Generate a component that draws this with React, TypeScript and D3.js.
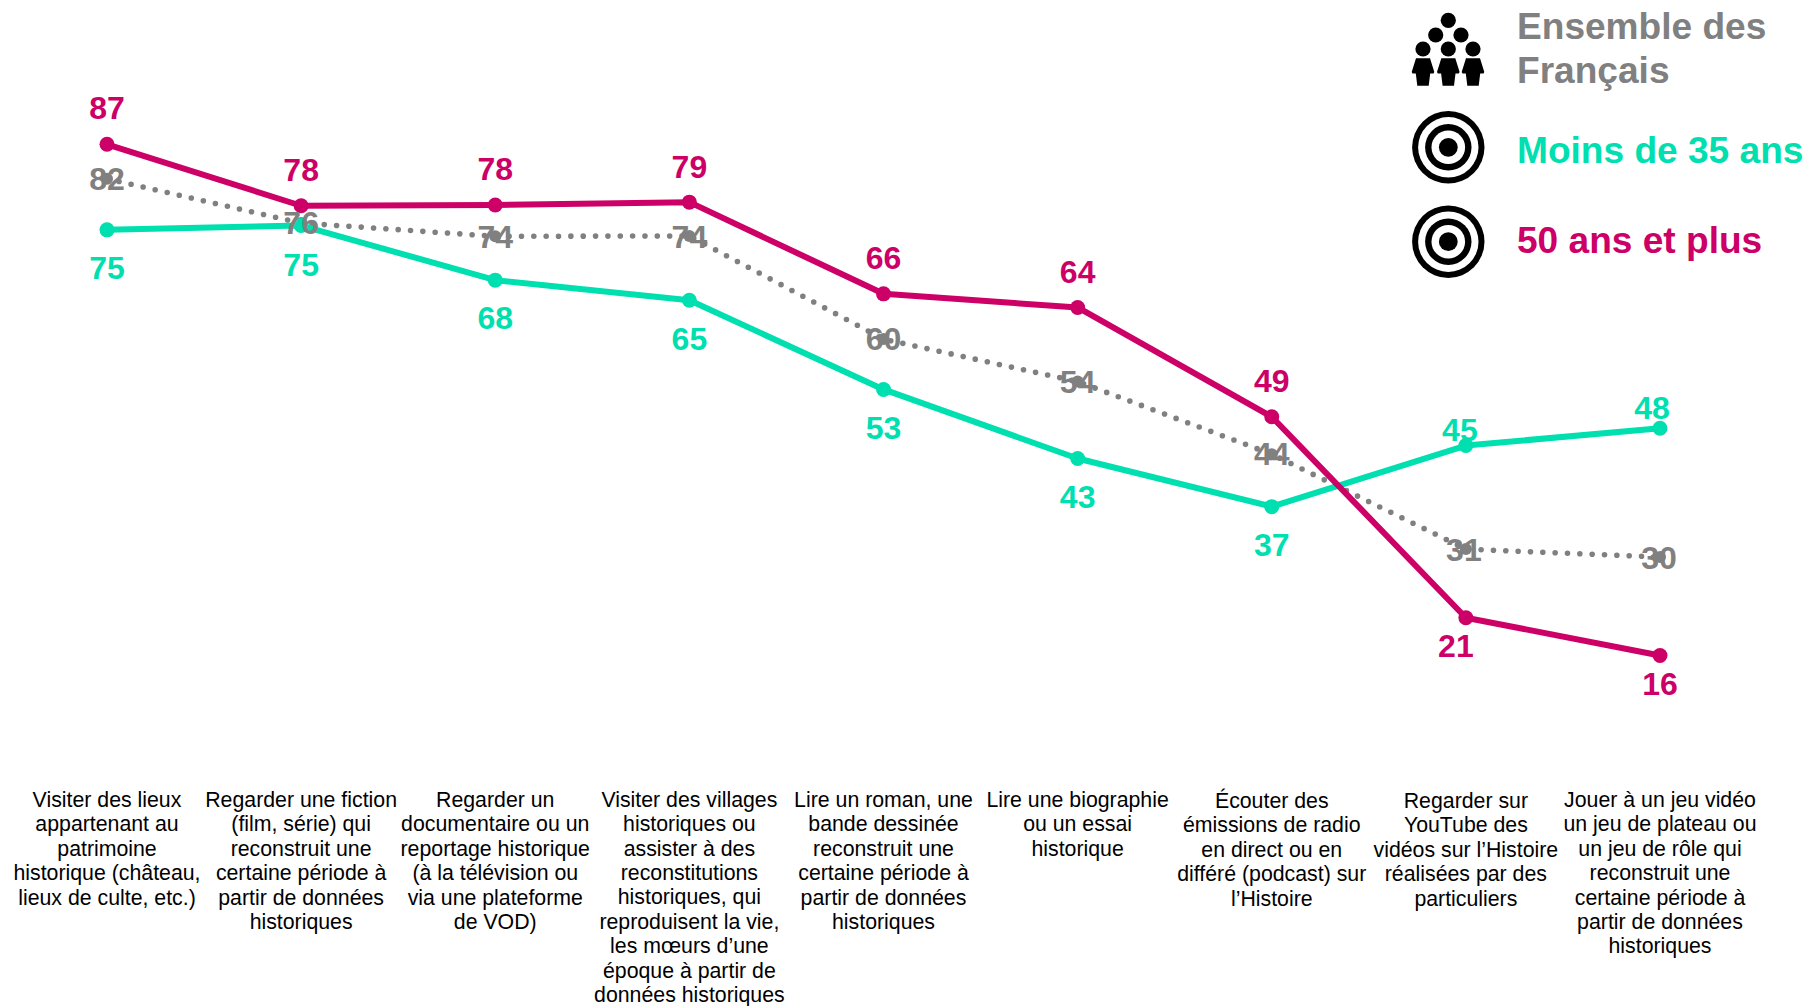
import React from "react";
import * as d3 from "d3";

const categories: string[][] = [
  ["Visiter des lieux", "appartenant au", "patrimoine", "historique (château,", "lieux de culte, etc.)"],
  ["Regarder une fiction", "(film, série) qui", "reconstruit une", "certaine période à", "partir de données", "historiques"],
  ["Regarder un", "documentaire ou un", "reportage historique", "(à la télévision ou", "via une plateforme", "de VOD)"],
  ["Visiter des villages", "historiques ou", "assister à des", "reconstitutions", "historiques, qui", "reproduisent la vie,", "les mœurs d’une", "époque à partir de", "données historiques"],
  ["Lire un roman, une", "bande dessinée", "reconstruit une", "certaine période à", "partir de données", "historiques"],
  ["Lire une biographie", "ou un essai", "historique"],
  ["Écouter des", "émissions de radio", "en direct ou en", "différé (podcast) sur", "l’Histoire"],
  ["Regarder sur", "YouTube des", "vidéos sur l’Histoire", "réalisées par des", "particuliers"],
  ["Jouer à un jeu vidéo", "un jeu de plateau ou", "un jeu de rôle qui", "reconstruit une", "certaine période à", "partir de données", "historiques"],
];

// Plotted heights
const ensembleValues = [82.2, 76.05, 74.2, 74.25, 59.9, 54, 43.9, 30.7, 29.6];
const moins35Values = [75.1, 75.7, 68.1, 65.3, 52.9, 43.3, 36.6, 45.1, 47.5];
const plus50Values = [87, 78.45, 78.55, 78.95, 66.2, 64.3, 49.1, 21.15, 15.9];

// Printed labels
const ensembleLabels = ["82", "76", "74", "74", "60", "54", "44", "31", "30"];
const moins35Labels = ["75", "75", "68", "65", "53", "43", "37", "45", "48"];
const plus50Labels = ["87", "78", "78", "79", "66", "64", "49", "21", "16"];

const legendEnsemble = ["Ensemble des", "Français"];
const legendMoins35 = "Moins de 35 ans";
const legendPlus50 = "50 ans et plus";

// Label placement relative to each point
const ensembleDx = [0, 0, 0, 0, 0, 0, 0, -2, -1];
const ensembleDy = [10.8, 10.8, 11.8, 11.8, 11.3, 11.8, 11.3, 12.3, 11.8];
const moins35Dx = [0, 0, 0, 0, 0, 0, 0, -6, -8];
const moins35Dy = [49.3, 50.3, 48.8, 49.6, 49.8, 49.6, 49.3, -4.7, -9.7];
const plus50Dx = [0, 0, 0, 0, 0, 0, 0, -10, 0];
const plus50Dy = [-25, -25, -25.5, -24.6, -25, -24.6, -25, 39.3, 39.5];

// Small vertical shift of each category block
const categoryDy = [0, 0, 0, -0.3, 0, 0, 1, 1, 0];

const GREY = "#808080";
const GREEN = "#00DFAF";
const RED = "#CC0066";
const FONT = "'Liberation Sans', Arial, sans-serif";

const WIDTH = 1808;
const HEIGHT = 1006;
const CATEGORY_Y = 807;
const CATEGORY_LINE = 24.4;

const x = d3.scalePoint<number>().domain(categories.map((_, i) => i)).range([107, 1660]);
const y = d3.scaleLinear().domain([0, 100]).range([769.8, 50.8]);
const line = d3.line<number>().x((_, i) => x(i) as number).y((v) => y(v));

const PERSON_BODY =
  "M-7,9.3 L7,9.3 L11.3,23 L10.5,24.5 L7.2,24.5 L5.7,36.7 L-5.7,36.7 L-7.2,24.5 L-10.5,24.5 L-11.3,23 Z";

function Head({ cx, cy }: { cx: number; cy: number }) {
  return <circle cx={cx} cy={cy} r={7.6} fill="#000" />;
}

function Person({ cx, cy }: { cx: number; cy: number }) {
  return (
    <g transform={`translate(${cx},${cy})`} fill="#000">
      <circle cx={0} cy={0} r={7.6} />
      <path d={PERSON_BODY} />
    </g>
  );
}

function Target({ cx, cy }: { cx: number; cy: number }) {
  return (
    <g>
      <circle cx={cx} cy={cy} r={36.2} fill="#000" />
      <circle cx={cx} cy={cy} r={30.2} fill="#fff" />
      <circle cx={cx} cy={cy} r={23.2} fill="#000" />
      <circle cx={cx} cy={cy} r={16.8} fill="#fff" />
      <circle cx={cx} cy={cy} r={9.4} fill="#000" />
    </g>
  );
}

function Series({
  values, color, width, dash, r,
}: { values: number[]; color: string; width: number; dash?: string; r: number }) {
  return (
    <g>
      <path
        d={line(values) as string}
        fill="none"
        stroke={color}
        strokeWidth={width}
        strokeDasharray={dash}
        strokeLinecap={dash ? "round" : "butt"}
        strokeLinejoin="round"
      />
      {values.map((v, i) => (
        <circle key={i} cx={x(i)} cy={y(v)} r={r} fill={color} />
      ))}
    </g>
  );
}

function Labels({
  values, labels, dx, dy, color,
}: { values: number[]; labels: string[]; dx: number[]; dy: number[]; color: string }) {
  return (
    <g fontFamily={FONT} fontWeight={700} fontSize={32} fill={color} textAnchor="middle">
      {values.map((v, i) => (
        <text key={i} x={(x(i) as number) + dx[i]} y={y(v) + dy[i]}>
          {labels[i]}
        </text>
      ))}
    </g>
  );
}

export default function App() {
  return (
    <svg
      width={WIDTH}
      height={HEIGHT}
      viewBox={`0 0 ${WIDTH} ${HEIGHT}`}
      style={{ position: "absolute", left: 0, top: 0, background: "#fff" }}
    >
      <Series values={ensembleValues} color={GREY} width={5.6} dash="0 12.35" r={6} />
      <Series values={moins35Values} color={GREEN} width={6} r={7.5} />
      <Series values={plus50Values} color={RED} width={6} r={7.5} />

      <Labels values={moins35Values} labels={moins35Labels} dx={moins35Dx} dy={moins35Dy} color={GREEN} />
      <Labels values={plus50Values} labels={plus50Labels} dx={plus50Dx} dy={plus50Dy} color={RED} />
      <Labels values={ensembleValues} labels={ensembleLabels} dx={ensembleDx} dy={ensembleDy} color={GREY} />

      <g fontFamily={FONT} fontSize={21.3} fill="#000" textAnchor="middle">
        {categories.map((lines, i) => (
          <text key={i} x={x(i)} y={CATEGORY_Y + categoryDy[i]}>
            {lines.map((l, j) => (
              <tspan key={j} x={x(i)} y={CATEGORY_Y + categoryDy[i] + j * CATEGORY_LINE}>
                {l}
              </tspan>
            ))}
          </text>
        ))}
      </g>

      <Head cx={1448.3} cy={20.3} />
      <Head cx={1435.7} cy={35} />
      <Head cx={1461} cy={35} />
      <Person cx={1423} cy={49} />
      <Person cx={1448.3} cy={49} />
      <Person cx={1473} cy={49} />
      <Target cx={1448.3} cy={147.3} />
      <Target cx={1448.3} cy={241.7} />

      <g fontFamily={FONT} fontWeight={700} fontSize={37.1}>
        <text x={1517} y={38.5} fill={GREY}>{legendEnsemble[0]}</text>
        <text x={1517} y={82.5} fill={GREY}>{legendEnsemble[1]}</text>
        <text x={1517} y={163.3} fill={GREEN}>{legendMoins35}</text>
        <text x={1517} y={253.3} fill={RED}>{legendPlus50}</text>
      </g>
    </svg>
  );
}
